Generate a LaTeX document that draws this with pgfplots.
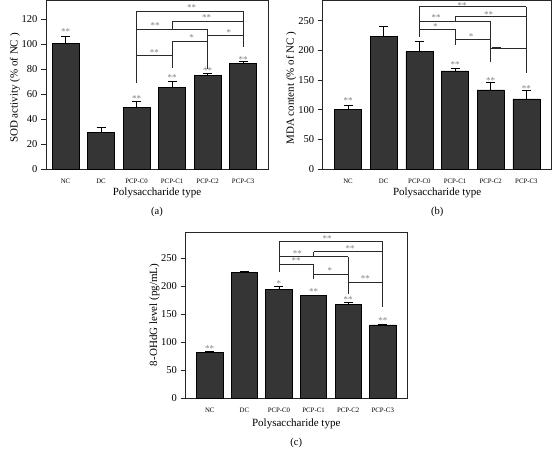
\documentclass[border=0pt]{standalone}
\usepackage{fontspec}
\setmainfont{Liberation Serif}
\usepackage{pgfplots}
\pgfplotsset{compat=1.18}
\definecolor{barfill}{HTML}{353535}
\definecolor{stargray}{HTML}{808080}
\definecolor{brk}{HTML}{2A2A2A}
\tikzset{
  st/.style={anchor=base, text=stargray, font=\fontsize{9}{10}\selectfont, inner sep=0pt, text height=6.2pt, text depth=0pt},
  bk/.style={draw=brk, line width=0.6pt},
}
\pgfplotsset{
  panel/.style={
    scale only axis, clip=false,
    ybar, bar width=0.76, ymin=0,
    xtick={0,1,2,3,4,5},
    xticklabels={NC,DC,PCP-C0,PCP-C1,PCP-C2,PCP-C3},
    x tick label style={font=\fontsize{6.8}{7}\selectfont, yshift=-1pt},
    y tick label style={font=\fontsize{10.5}{11}\selectfont},
    /pgf/number format/assume math mode=true,
    major x tick style={draw=none},
    ytick pos=left, tick align=outside,
    major tick length=5pt,
    axis line style={line width=0.7pt, black!85},
    every tick/.style={black!85, line width=0.6pt},
    xlabel={Polysaccharide type},
    label style={font=\fontsize{11}{13}\selectfont},
    xlabel style={at={(axis description cs:0.5,0)}, anchor=center, yshift=-24pt},
  },
  barstyle/.style={fill=barfill, draw=black, line width=0.6pt,
    error bars/.cd, y dir=plus, y explicit,
    error bar style={line width=0.8pt, black},
    error mark options={black, line width=0.8pt, mark size=4.5pt, rotate=90}},
}
\begin{document}
\begin{tikzpicture}
\path[use as bounding box] (0,0) rectangle (552pt,449pt);
% ---------------- (a) ----------------
\begin{axis}[panel, at={(46pt,280pt)}, anchor=south west,
  width=222pt, height=168.5pt, xmin=-0.55, xmax=5.7, ymax=135,
  ytick={0,20,40,60,80,100,120},
  ylabel={SOD activity (\% of NC )},
  ylabel style={at={(axis description cs:-0.14,0.48)}, anchor=center}]
\addplot[barstyle] coordinates {
  (0,100.5) +- (0,5.4)
  (1,29.0) +- (0,4.0)
  (2,49.6) +- (0,4.8)
  (3,65.3) +- (0,5.1)
  (4,74.7) +- (0,1.8)
  (5,84.5) +- (0,1.9)
};
\node[st] at (0,107.6) {**};
\node[st] at (2,54.3) {**};
\node[st] at (3,70.8) {**};
\node[st] at (4,76.4) {**};
\node[st] at (5,85.2) {**};
% brackets
\draw[bk] (2,126.4) -- (5,126.4);
\draw[bk] (3,118.6) -- (5,118.6);
\draw[bk] (2,111.7) -- (4,111.7);
\draw[bk] (4,107.0) -- (5,107.0);
\draw[bk] (3,102.4) -- (4,102.4);
\draw[bk] (2,91.2) -- (3,91.2);
\draw[bk] (2,126.4) -- (2,68.5);
\draw[bk] (3,118.6) -- (3,111.7);
\draw[bk] (3,102.4) -- (3,80.8);
\draw[bk] (4,111.7) -- (4,80.5);
\draw[bk] (5,126.4) -- (5,97.8);
\node[st] at (3.55,126.8) {**};
\node[st] at (3.97,118.8) {**};
\node[st] at (2.52,112.4) {**};
\node[st] at (4.6,107.0) {*};
\node[st] at (3.55,102.8) {*};
\node[st] at (2.5,90.8) {**};
\node[font=\fontsize{10.5}{12}\selectfont] at (axis description cs:0.5,0) [yshift=-43pt] {(a)};
\end{axis}
% ---------------- (b) ----------------
\begin{axis}[panel, at={(322.7pt,280pt)}, anchor=south west,
  width=229pt, height=168.5pt, xmin=-0.71, xmax=5.71, ymax=284,
  ytick={0,50,100,150,200,250},
  ylabel={MDA content (\% of NC )},
  ylabel style={at={(axis description cs:-0.138,0.48)}, anchor=center}]
\addplot[barstyle] coordinates {
  (0,100.7) +- (0,7.2)
  (1,223.0) +- (0,18.0)
  (2,197.7) +- (0,16.9)
  (3,165.2) +- (0,4.6)
  (4,133.2) +- (0,12.3)
  (5,118.0) +- (0,14.0)
};
\node[st] at (0,109.9) {**};
\node[st] at (3,170.6) {**};
\node[st] at (4,144.1) {**};
\node[st] at (5,130.1) {**};
% brackets
\draw[bk] (2,273.6) -- (5,273.6);
\draw[bk] (3,256.7) -- (5,256.7);
\draw[bk] (2,248.3) -- (4,248.3);
\draw[bk] (2,235.5) -- (3,235.5);
\draw[bk] (3,218.6) -- (4,218.6);
\draw[bk] (4,203.5) -- (5,203.5);
\draw[bk] (4.05,205.5) -- (4.3,205.5);
\draw[bk] (2,273.6) -- (2,223.0);
\draw[bk] (3,256.7) -- (3,248.3);
\draw[bk] (3,235.5) -- (3,209.0);
\draw[bk] (4,248.3) -- (4,180.9);
\draw[bk] (5,273.6) -- (5,162.3);
\node[st] at (3.2,270.6) {**};
\node[st] at (3.94,254.9) {**};
\node[st] at (2.47,250.4) {**};
\node[st] at (2.45,235.1) {*};
\node[st] at (3.45,218.3) {*};
\node[font=\fontsize{10.5}{12}\selectfont] at (axis description cs:0.5,0) [yshift=-43pt] {(b)};
\end{axis}
% ---------------- (c) ----------------
\begin{axis}[panel, at={(185.5pt,51pt)}, anchor=south west,
  width=221.5pt, height=166pt, xmin=-0.7, xmax=5.7, ymax=297,
  ytick={0,50,100,150,200,250},
  ylabel={8-OHdG level (pg/mL)},
  ylabel style={at={(axis description cs:-0.14,0.5)}, anchor=center},
  xlabel style={yshift=-2pt}]
\addplot[barstyle] coordinates {
  (0,81.0) +- (0,1.5)
  (1,224.0) +- (0,2.0)
  (2,195.0) +- (0,4.0)
  (3,183.0) +- (0,1.0)
  (4,168.0) +- (0,3.0)
  (5,130.7) +- (0,1.5)
};
\node[st] at (0,82.5) {**};
\node[st] at (2,200.0) {*};
\node[st] at (3,184.5) {**};
\node[st] at (4,171.0) {**};
\node[st] at (5,132.5) {**};
% brackets
\draw[bk] (2,279.6) -- (5,279.6);
\draw[bk] (3,261.7) -- (5,261.7);
\draw[bk] (2,252.8) -- (4,252.8);
\draw[bk] (2,239.7) -- (3,239.7);
\draw[bk] (3,221.8) -- (4,221.8);
\draw[bk] (4,207.0) -- (5,207.0);
\draw[bk] (2,279.6) -- (2,226.0);
\draw[bk] (3,261.7) -- (3,252.8);
\draw[bk] (3,239.7) -- (3,212.3);
\draw[bk] (4,252.8) -- (4,186.0);
\draw[bk] (5,279.6) -- (5,163.3);
\node[st] at (3.39,280.5) {**};
\node[st] at (4.06,261.8) {**};
\node[st] at (2.53,254.0) {**};
\node[st] at (2.5,240.5) {**};
\node[st] at (3.47,222.2) {*};
\node[st] at (4.5,207.9) {**};
\node[font=\fontsize{10.5}{12}\selectfont] at (axis description cs:0.5,0) [yshift=-45pt] {(c)};
\end{axis}
\end{tikzpicture}
\end{document}
